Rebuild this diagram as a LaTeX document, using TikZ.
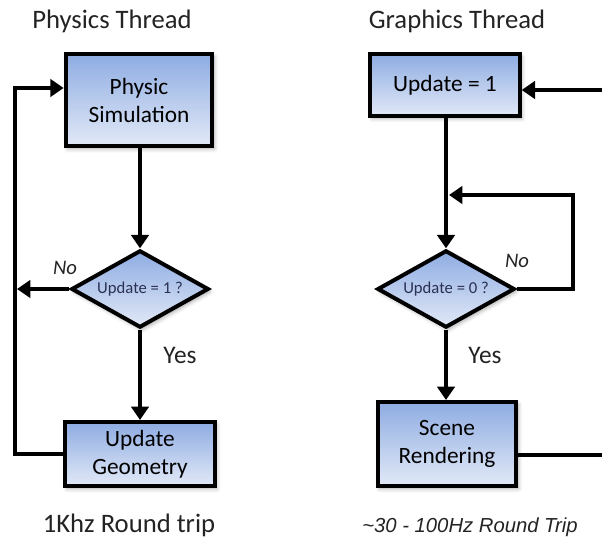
\documentclass[tikz,border=0pt]{standalone}
\usepackage{fontspec}
\setmainfont{Carlito}
\newfontfamily\arialfont{Liberation Sans}
\usetikzlibrary{positioning,calc}
\usetikzlibrary{arrows.meta,shapes.geometric,shadows.blur}
\definecolor{BoxTop}{RGB}{142,172,226}
\definecolor{BoxBottom}{RGB}{226,233,247}
\definecolor{AskText}{RGB}{42,48,82}
\definecolor{InkGray}{RGB}{35,35,35}
\tikzset{
  box/.style={draw=black,line width=3pt,top color=BoxTop,bottom color=BoxBottom,
    align=center,inner sep=2pt,font=\fontsize{17.5}{21}\selectfont,
    blur shadow={shadow xshift=1.5pt,shadow yshift=-2pt,shadow opacity=35,shadow blur radius=3pt}},
  ask/.style={diamond,aspect=1.8,draw=black,line width=3pt,top color=BoxTop,bottom color=BoxBottom,
    inner sep=0pt,minimum width=103pt,minimum height=58pt,text=AskText,font=\fontsize{12.5}{15}\selectfont,
    blur shadow={shadow xshift=1.5pt,shadow yshift=-2pt,shadow opacity=35,shadow blur radius=3pt}},
  flow/.style={draw=black,line width=3pt},
  tip/.style={-{Triangle[length=10pt,width=13pt]}},
}
\tikzset{title/.style={anchor=base,text=InkGray,font=\fontsize{20}{24}\selectfont}, lab/.style={anchor=base,text=InkGray,font=\fontsize{19}{22}\selectfont}}

\begin{document}
\begin{tikzpicture}[x=0.75pt,y=-0.75pt]
\useasboundingbox (0,0) rectangle (602,538);
% physics thread
\node[title] (ptitle) at (112,29) {Physics Thread};
\node[box,minimum width=110pt,minimum height=69pt] (sim) at (139,100) {Physic\\Simulation};
\node[ask] (pask) at (140,289) {Update = 1 ?};
\node[box,minimum width=112pt,minimum height=48pt] (geom) at (140,454) {Update\\Geometry};
\node[title] (prate) at (129,532) {1Khz Round trip};
\node[lab,font=\fontsize{15.5}{18}\selectfont\itshape] (pno) at (65,274) {No};
\node[lab] (pyes) at (180,363) {Yes};
\coordinate (pside) at (17,289);
\coordinate (ploop) at (15,88);
\draw[flow,tip] (sim.south-|pask) -- (pask);
\draw[flow,tip] (pask) -- (geom);
\draw[flow,tip] (pask.west) -- (pside);
\draw[flow,tip] (geom.west) -| (ploop) -- (sim.west|-ploop);
% graphics thread
\node[title] (gtitle) at (457,29) {Graphics Thread};
\node[box,minimum width=112pt,minimum height=46pt] (upd) at (445,85) {Update = 1};
\node[ask] (gask) at (446,289) {Update = 0 ?};
\node[box,minimum width=104pt,minimum height=63pt] (scene) at (447,444) {Scene\\Rendering};
\node[anchor=base,text=InkGray,font=\arialfont\itshape\fontsize{15.2}{18}\selectfont] (grate) at (470,532) {\textasciitilde30 - 100Hz Round Trip};
\node[lab,font=\fontsize{15.5}{18}\selectfont\itshape] (gno) at (517,267) {No};
\node[lab] (gyes) at (485,363) {Yes};
\coordinate (gmerge) at (449,195);
\coordinate (gloop) at (573,195);
\coordinate (gin) at (602,90);
\coordinate (gout) at (602,455);
\draw[flow,tip] (upd.south-|gask) -- (gask);
\draw[flow,tip] (gask) -- (scene.north-|gask);
\draw[flow,tip] (gask.east) -| (gloop) -- (gmerge);
\draw[flow,tip] (gin) -- (upd.east|-gin);
\draw[flow] (scene.east|-gout) -- (gout);
\end{tikzpicture}
\end{document}
